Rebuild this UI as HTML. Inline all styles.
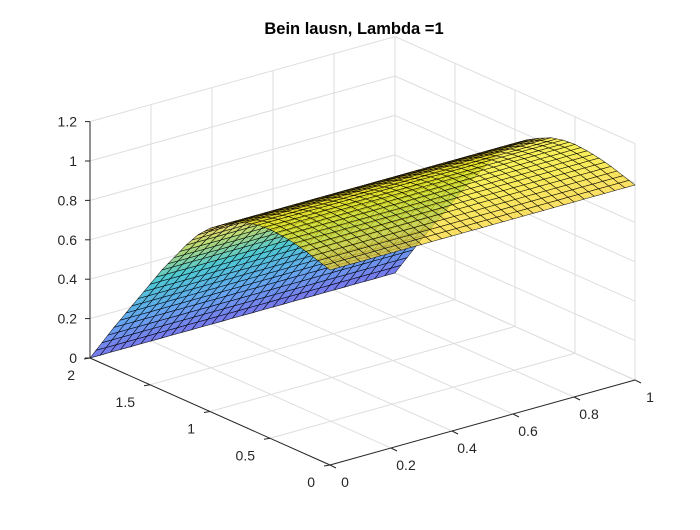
<!DOCTYPE html>
<html><head><meta charset="utf-8">
<style>
html,body{margin:0;padding:0;background:#fff;}
svg text{font-family:"Liberation Sans",Arial,sans-serif;}
</style></head>
<body>
<svg id="chart" width="700" height="525" viewBox="0 0 700 525" xmlns="http://www.w3.org/2000/svg">
<rect width="700" height="525" fill="#fff"/>
<text x="354" y="34" text-anchor="middle" font-size="16.5" font-weight="bold" fill="#000">Bein lausn, Lambda =1</text>
<g id="grid"></g>
<g id="surf"></g>
<g id="axes"></g>
</svg>
<script>
// profile u(y) sampled at yVals; surface is extruded along x
const yVals = [0,0.1,0.2,0.3,0.4,0.5,0.6,0.7,0.8,0.9,1.0,1.1,1.2,1.3,1.4,1.5,1.6,1.7,1.8,1.9,2.0];
const uVals = [0.99,1.01,1.03,1.045,1.055,1.06,1.055,1.04,1.01,0.975,0.93,0.87,0.79,0.70,0.61,0.51,0.41,0.31,0.21,0.105,0];
const xTicks = [0,0.2,0.4,0.6,0.8,1];
const yTicks = [0,0.5,1,1.5,2];
const zTicks = [0,0.2,0.4,0.6,0.8,1,1.2];
const NS='http://www.w3.org/2000/svg';
function P(x,y,z){return [330+305*x-120*y, 465-85*x-53.5*y-197*z];}
function interpU(y){
  for(let i=0;i<yVals.length-1;i++){
    if(y<=yVals[i+1]+1e-9){const t=(y-yVals[i])/(yVals[i+1]-yVals[i]);return uVals[i]+t*(uVals[i+1]-uVals[i]);}
  }
  return uVals[uVals.length-1];
}
function line(g,a,b,stroke,w){
  const l=document.createElementNS(NS,'line');
  l.setAttribute('x1',a[0]);l.setAttribute('y1',a[1]);l.setAttribute('x2',b[0]);l.setAttribute('y2',b[1]);
  l.setAttribute('stroke',stroke);l.setAttribute('stroke-width',w);
  
  
  g.appendChild(l);
}
function txt(g,x,y,s,anchor,name){
  const t=document.createElementNS(NS,'text');
  t.setAttribute('x',x);t.setAttribute('y',y);t.setAttribute('font-size','14');t.setAttribute('fill','#262626');
  t.setAttribute('text-anchor',anchor);t.textContent=s;
  
  
  g.appendChild(t);
}
const grid=document.getElementById('grid');
const gc='#dedede';
xTicks.forEach(x=>line(grid,P(x,0,0),P(x,2,0),gc,1));
yTicks.forEach(y=>line(grid,P(0,y,0),P(1,y,0),gc,1));
xTicks.forEach(x=>line(grid,P(x,2,0),P(x,2,1.2),gc,1));
zTicks.forEach(z=>line(grid,P(0,2,z),P(1,2,z),gc,1));
yTicks.forEach(y=>line(grid,P(1,y,0),P(1,y,1.2),gc,1));
zTicks.forEach(z=>line(grid,P(1,0,z),P(1,2,z),gc,1));
// colormap stops [t, r,g,b]
const cmap=[[0,62,62,226],[0.25,34,134,233],[0.5,5,176,191],[0.72,160,205,60],[0.86,240,200,50],[0.94,248,212,34],[1,245,234,20]];
function color(v){
  const t=Math.max(0,Math.min(1,v/1.06));
  let i=0;while(i<cmap.length-2&&t>cmap[i+1][0])i++;
  const a=cmap[i],b=cmap[i+1];const f=(t-a[0])/(b[0]-a[0]);
  return 'rgb('+[1,2,3].map(k=>Math.round(a[k]+f*(b[k]-a[k]))).join(',')+')';
}
const surf=document.getElementById('surf');
const NX=30, NY=40;
const quads=[];
for(let i=0;i<NX;i++)for(let j=0;j<NY;j++){
  const x0=i/NX,x1=(i+1)/NX,y0=2*j/NY,y1=2*(j+1)/NY;
  const u00=interpU(y0),u01=interpU(y1);
  const pts=[P(x0,y0,u00),P(x1,y0,u00),P(x1,y1,u01),P(x0,y1,u01)];
  const d=(x0+x1)/2*85+(y0+y1)/2*53.5;
  quads.push({pts,d,u:(u00+u01)/2});
}
quads.sort((a,b)=>b.d-a.d);
quads.forEach(q=>{
  const p=document.createElementNS(NS,'polygon');
  p.setAttribute('points',q.pts.map(a=>a[0].toFixed(1)+','+a[1].toFixed(1)).join(' '));
  p.setAttribute('fill',color(q.u));p.setAttribute('fill-opacity','0.7');
  p.setAttribute('stroke','#000');p.setAttribute('stroke-width','0.55');p.setAttribute('stroke-opacity','0.85');
  
  
  surf.appendChild(p);
});
const ax=document.getElementById('axes');
line(ax,P(0,0,0),P(1,0,0),'#262626',1);
line(ax,P(0,0,0),P(0,2,0),'#262626',1);
line(ax,P(0,2,0),P(0,2,1.2),'#262626',1);
xTicks.forEach(x=>{const a=P(x,0,0);line(ax,a,[a[0]+6,a[1]+3],'#262626',1);txt(ax,a[0]+15,a[1]+22,String(x),'middle','x-tick-label');});
yTicks.forEach(y=>{const a=P(0,y,0);line(ax,a,[a[0]-6,a[1]+1],'#262626',1);txt(ax,a[0]-15,a[1]+22,String(y),'end','y-tick-label');});
zTicks.forEach(z=>{const a=P(0,2,z);line(ax,a,[a[0]-5,a[1]],'#262626',1);txt(ax,a[0]-13,a[1]+5,String(z),'end','z-tick-label');});
</script>
</body></html>
